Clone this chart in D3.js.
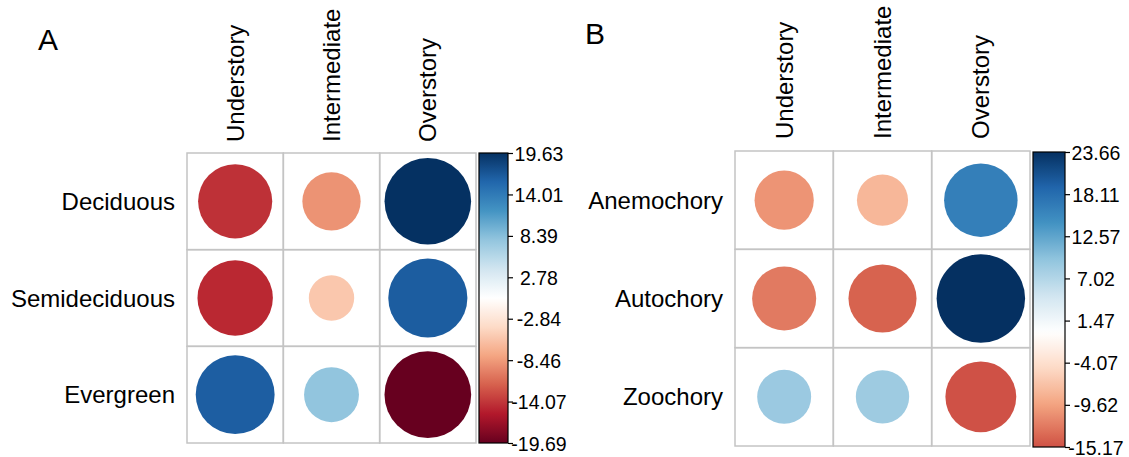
<!DOCTYPE html>
<html>
<head>
<meta charset="utf-8">
<script src="https://cdn.jsdelivr.net/npm/d3@7"></script>
<style>
  html, body { margin: 0; padding: 0; background: #fff; }
  svg { display: block; font-family: "Liberation Sans", Arial, sans-serif; }
</style>
</head>
<body>
<svg id="chart" width="1129" height="457"></svg>
<script>
// Column categories shared by both panels
const layers = ["Understory", "Intermediate", "Overstory"];

// Panel A: leaf phenology
const leafTypes = ["Deciduous", "Semideciduous", "Evergreen"];
const leafValues = [
  [-14.4, -8.9, 19.63],
  [-14.9, -5.4, 16.4],
  [16.3, 7.9, -19.69]
];
const leafTicks = ["-19.69", "-14.07", "-8.46", "-2.84", "2.78", "8.39", "14.01", "19.63"];

// Panel B: dispersal syndrome
const dispersalTypes = ["Anemochory", "Autochory", "Zoochory"];
const dispersalValues = [
  [-10.6, -7.9, 16.3],
  [-12.4, -14.0, 23.66],
  [8.8, 8.6, -15.17]
];
const dispersalTicks = ["-15.17", "-9.62", "-4.07", "1.47", "7.02", "12.57", "18.11", "23.66"];

// Diverging red-blue palette (corrplot default)
const palette = ["#67001F", "#B2182B", "#D6604D", "#F4A582", "#FDDBC7", "#FFFFFF",
                 "#D1E5F0", "#92C5DE", "#4393C3", "#2166AC", "#053061"];
const color = d3.scaleLinear()
  .domain(d3.range(palette.length).map(i => -1 + 2 * i / (palette.length - 1)))
  .range(palette)
  .interpolate(d3.interpolateRgb)
  .clamp(true);

const svg = d3.select("#chart");
const defs = svg.append("defs");

function panel(cfg) {
  const { id, letter, letterPos, rows, values, ticks, grid, bar, colLabelEnd } = cfg;
  const g = svg.append("g");
  const flat = values.flat();
  const vmin = d3.min(flat), vmax = d3.max(flat);
  const maxAbs = Math.max(Math.abs(vmin), Math.abs(vmax));

  const x = d3.scaleBand().domain(layers).range([grid.x0, grid.x1]);
  const y = d3.scaleBand().domain(rows).range([grid.y0, grid.y1]);
  const r = d3.scaleSqrt().domain([0, maxAbs]).range([0, 0.45 * Math.min(x.bandwidth(), y.bandwidth())]);

  const cells = [];
  rows.forEach((row, i) => layers.forEach((col, j) => cells.push({ row, col, v: values[i][j] })));

  // grid cells
  g.selectAll("rect.cell").data(cells).join("rect")
    .attr("class", "cell")
    .attr("x", d => x(d.col)).attr("y", d => y(d.row))
    .attr("width", x.bandwidth()).attr("height", y.bandwidth())
    .attr("fill", "none").attr("stroke", "#C4C4C4").attr("stroke-width", 1.5);

  // circles: area proportional to |value|
  g.selectAll("circle").data(cells).join("circle")
    .attr("cx", d => x(d.col) + x.bandwidth() / 2)
    .attr("cy", d => y(d.row) + y.bandwidth() / 2)
    .attr("r", d => r(Math.abs(d.v)))
    .attr("fill", d => color(d.v / maxAbs));

  // row labels
  g.selectAll("text.row").data(rows).join("text")
    .attr("class", "row")
    .attr("x", grid.x0 - 12)
    .attr("y", d => y(d) + y.bandwidth() / 2 + 8.5)
    .attr("text-anchor", "end")
    .attr("font-size", 24)
    .attr("fill", "#000")
    .text(d => d);

  // column labels, rotated
  g.selectAll("text.col").data(layers).join("text")
    .attr("class", "col")
    .attr("transform", d => `translate(${x(d) + x.bandwidth() / 2 + 8.5},${colLabelEnd}) rotate(-90)`)
    .attr("text-anchor", "start")
    .attr("font-size", 24)
    .attr("fill", "#000")
    .text(d => d);

  // colour legend
  const tickVals = ticks.map(Number);
  const ly = d3.scaleLinear().domain([vmin, vmax]).range([bar.y1, bar.y0]);
  const grad = defs.append("linearGradient")
    .attr("id", id + "-grad")
    .attr("x1", 0).attr("y1", 1).attr("x2", 0).attr("y2", 0);
  d3.range(0, 1.0001, 0.02).forEach(t => {
    const v = vmin + t * (vmax - vmin);
    grad.append("stop").attr("offset", t).attr("stop-color", color(v / maxAbs));
  });
  g.append("rect")
    .attr("x", bar.x0).attr("y", bar.y0)
    .attr("width", bar.x1 - bar.x0).attr("height", bar.y1 - bar.y0)
    .attr("fill", `url(#${id}-grad)`)
    .attr("stroke", "#000").attr("stroke-width", 1.2);

  const axis = d3.axisRight(ly)
    .tickValues(tickVals)
    .tickFormat((d, i) => ticks[i])
    .tickSize(5)
    .tickSizeOuter(0);
  const ag = g.append("g")
    .attr("transform", `translate(${bar.x1},0)`)
    .call(axis);
  ag.select(".domain").remove();
  ag.selectAll(".tick line").attr("stroke", "#000").attr("stroke-width", 1.2);
  ag.selectAll(".tick text")
    .attr("x", 31)
    .attr("dy", "0.36em")
    .attr("text-anchor", "middle")
    .attr("font-size", 19.5)
    .attr("font-family", "Liberation Sans, Arial, sans-serif")
    .attr("fill", "#000");

  // panel letter
  g.append("text")
    .attr("x", letterPos[0]).attr("y", letterPos[1])
    .attr("font-size", 30)
    .attr("fill", "#000")
    .text(letter);
}

panel({
  id: "leaf", letter: "A", letterPos: [38, 50],
  rows: leafTypes, values: leafValues, ticks: leafTicks,
  grid: { x0: 187, x1: 476, y0: 153, y1: 443 },
  bar: { x0: 479, x1: 508, y0: 153, y1: 443 },
  colLabelEnd: 142
});

panel({
  id: "disp", letter: "B", letterPos: [585, 44],
  rows: dispersalTypes, values: dispersalValues, ticks: dispersalTicks,
  grid: { x0: 735, x1: 1030, y0: 151, y1: 446 },
  bar: { x0: 1033, x1: 1065, y0: 152, y1: 447 },
  colLabelEnd: 139
});
</script>
</body>
</html>
